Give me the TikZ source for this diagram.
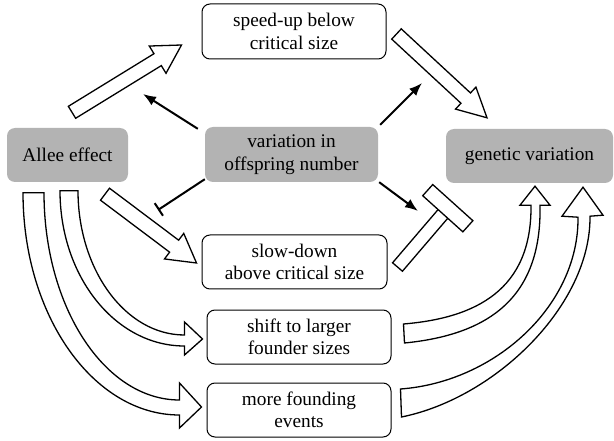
\documentclass[tikz,border=0pt]{standalone}
\usepackage{fontspec}
\setmainfont{Liberation Serif}
\usetikzlibrary{calc,arrows.meta}

\definecolor{boxgray}{RGB}{179,179,179}

% straight block arrow: tail, tip, half shaft, half head, head length
\newcommand{\blockarrow}[5]{%
  \coordinate (ba) at ($(#2)!#5!(#1)$);
  \draw[fatline] ($(#1)!#3!90:(#2)$) -- ($(ba)!#3!-90:(#1)$) -- ($(ba)!#4!-90:(#1)$)
    -- (#2) -- ($(ba)!#4!90:(#1)$) -- ($(ba)!#3!90:(#1)$) -- ($(#1)!#3!-90:(#2)$) -- cycle;
}

\begin{document}
\begin{tikzpicture}[x=1pt,y=-1pt,
  every node/.style={font=\fontsize{19.3}{22.5}\selectfont, align=center, inner sep=0pt},
  graybox/.style={fill=boxgray, rounded corners=8pt, minimum height=54pt},
  whitebox/.style={draw, line width=1pt, rounded corners=8pt, minimum width=184pt, minimum height=54pt},
  fatline/.style={draw, fill=white, line width=1.3pt, line join=miter},
  thinarrow/.style={line width=2pt, -{Latex[length=13pt,width=10pt]}},
  thinbar/.style={line width=2pt, -{Bar[width=15pt]}}]
  \useasboundingbox (0,0) rectangle (614,441);

  % boxes
  \node[graybox, minimum width=121pt] (allee) at (67.5,155) {Allee effect};
  \node[graybox, minimum width=173pt, minimum height=55pt] (var) at (291.5,154.5) {variation in\\offspring number};
  \node[graybox, minimum width=167pt] (gen) at (529.5,156) {genetic variation};
  \node[whitebox, minimum height=55pt] (speed) at (294,31.5) {speed-up below\\critical size};
  \node[whitebox, minimum width=185pt] (slow) at (294.5,262) {slow-down\\above critical size};
  \node[whitebox] (shift) at (299,337) {shift to larger\\founder sizes};
  \node[whitebox] (found) at (299,410) {more founding\\events};

  % ends of the block arrows
  \coordinate (a1t) at ($(allee.north)+(4.5,-15.5)$);
  \coordinate (a1h) at ($(speed.west)+(-20,13.5)$);
  \coordinate (a2t) at ($(speed.east)+(10,2.5)$);
  \coordinate (a2h) at ($(gen.north)+(-42.5,-11)$);
  \coordinate (a3t) at ($(allee.south)+(37.5,12)$);
  \coordinate (a3h) at ($(slow.west)+(-5,1)$);
  \coordinate (c1t) at ($(allee.south)+(1.5,8.5)$);
  \coordinate (c1h) at ($(shift.west)+(-4,2)$);
  \coordinate (c2t) at ($(allee.south)+(-34,10.5)$);
  \coordinate (c2h) at ($(found.west)+(-5,-3)$);
  \coordinate (c3t) at ($(shift.east)+(12.5,-3.5)$);
  \coordinate (c3h) at ($(gen.south)+(5.5,3)$);
  \coordinate (c4t) at ($(found.east)+(9.5,-7)$);
  \coordinate (c4h) at ($(gen.south)+(53.5,4)$);
  \coordinate (tt) at ($(slow.east)+(10,5)$);
  \coordinate (te) at ($(gen.south west)+(2,25)$);

  % straight block arrows
  \blockarrow{a1t}{a1h}{7pt}{16pt}{28pt}
  \blockarrow{a2t}{a2h}{7pt}{15pt}{29pt}
  \blockarrow{a3t}{a3h}{7.5pt}{16pt}{28pt}

  % curved block arrows
  \draw[fatline] ($(c1t)+(-9,0)$) .. controls +(0,86) and +(-69,0) .. ($(c1h)+(-18,7)$)
    -- ++(0,9) -- (c1h) -- ++(-18,-17) -- ++(0,13)
    .. controls +(-59,0) and +(0,79) .. ($(c1t)+(9,0)$) -- cycle;
  \draw[fatline] ($(c2t)+(-10.5,0)$) .. controls +(0,123) and +(-86,0) .. ($(c2h)+(-22,8)$)
    -- ++(0,13) -- (c2h) -- ++(-22,-24) -- ++(0,17)
    .. controls +(-75,0) and +(0,114) .. ($(c2t)+(10.5,0)$) -- cycle;
  \draw[fatline] ($(c3t)+(0.5,9.5)$) .. controls +(81,-8) and +(2,95) .. ($(c3h)+(5,19)$)
    -- ++(10,0) -- (c3h) -- ++(-15,19) -- ++(11,0)
    .. controls +(1,85) and +(72,-6) .. ($(c3t)+(-0.5,-9.5)$) -- cycle;
  \draw[fatline] ($(c4t)+(0.5,14)$) .. controls +(94,-19) and +(1,89) .. ($(c4h)+(7,29)$)
    -- ++(13,-1) -- (c4h) -- ++(-21,29) -- ++(16,1)
    .. controls +(1,88) and +(95,-7) .. ($(c4t)+(-0.5,-14)$) -- cycle;

  % blocked block arrow
  \draw[fatline] ($(tt)!6.5pt!90:(te)$) -- ($(te)!6.5pt!-90:(tt)$)
    -- ($(te)!6.5pt!90:(tt)$) -- ($(tt)!6.5pt!-90:(te)$) -- cycle;
  \node[fatline, minimum width=54pt, minimum height=15pt, rotate=-42] (tbar) at (te) {};

  % thin arrows
  \coordinate (t1e) at (143,94);
  \coordinate (t2e) at (422,83);
  \coordinate (t3e) at (418,211);
  \coordinate (t4e) at (158,210);
  \draw[thinarrow] ($(var.north west)+(-7,2)$) -- (t1e);
  \draw[thinarrow] ($(var.north east)+(2,-2)$) -- (t2e);
  \draw[thinarrow] ($(var.south east)+(1,0)$) -- (t3e);
  \draw[thinbar] ($(var.south west)+(0,-3)$) -- (t4e);
\end{tikzpicture}
\end{document}
